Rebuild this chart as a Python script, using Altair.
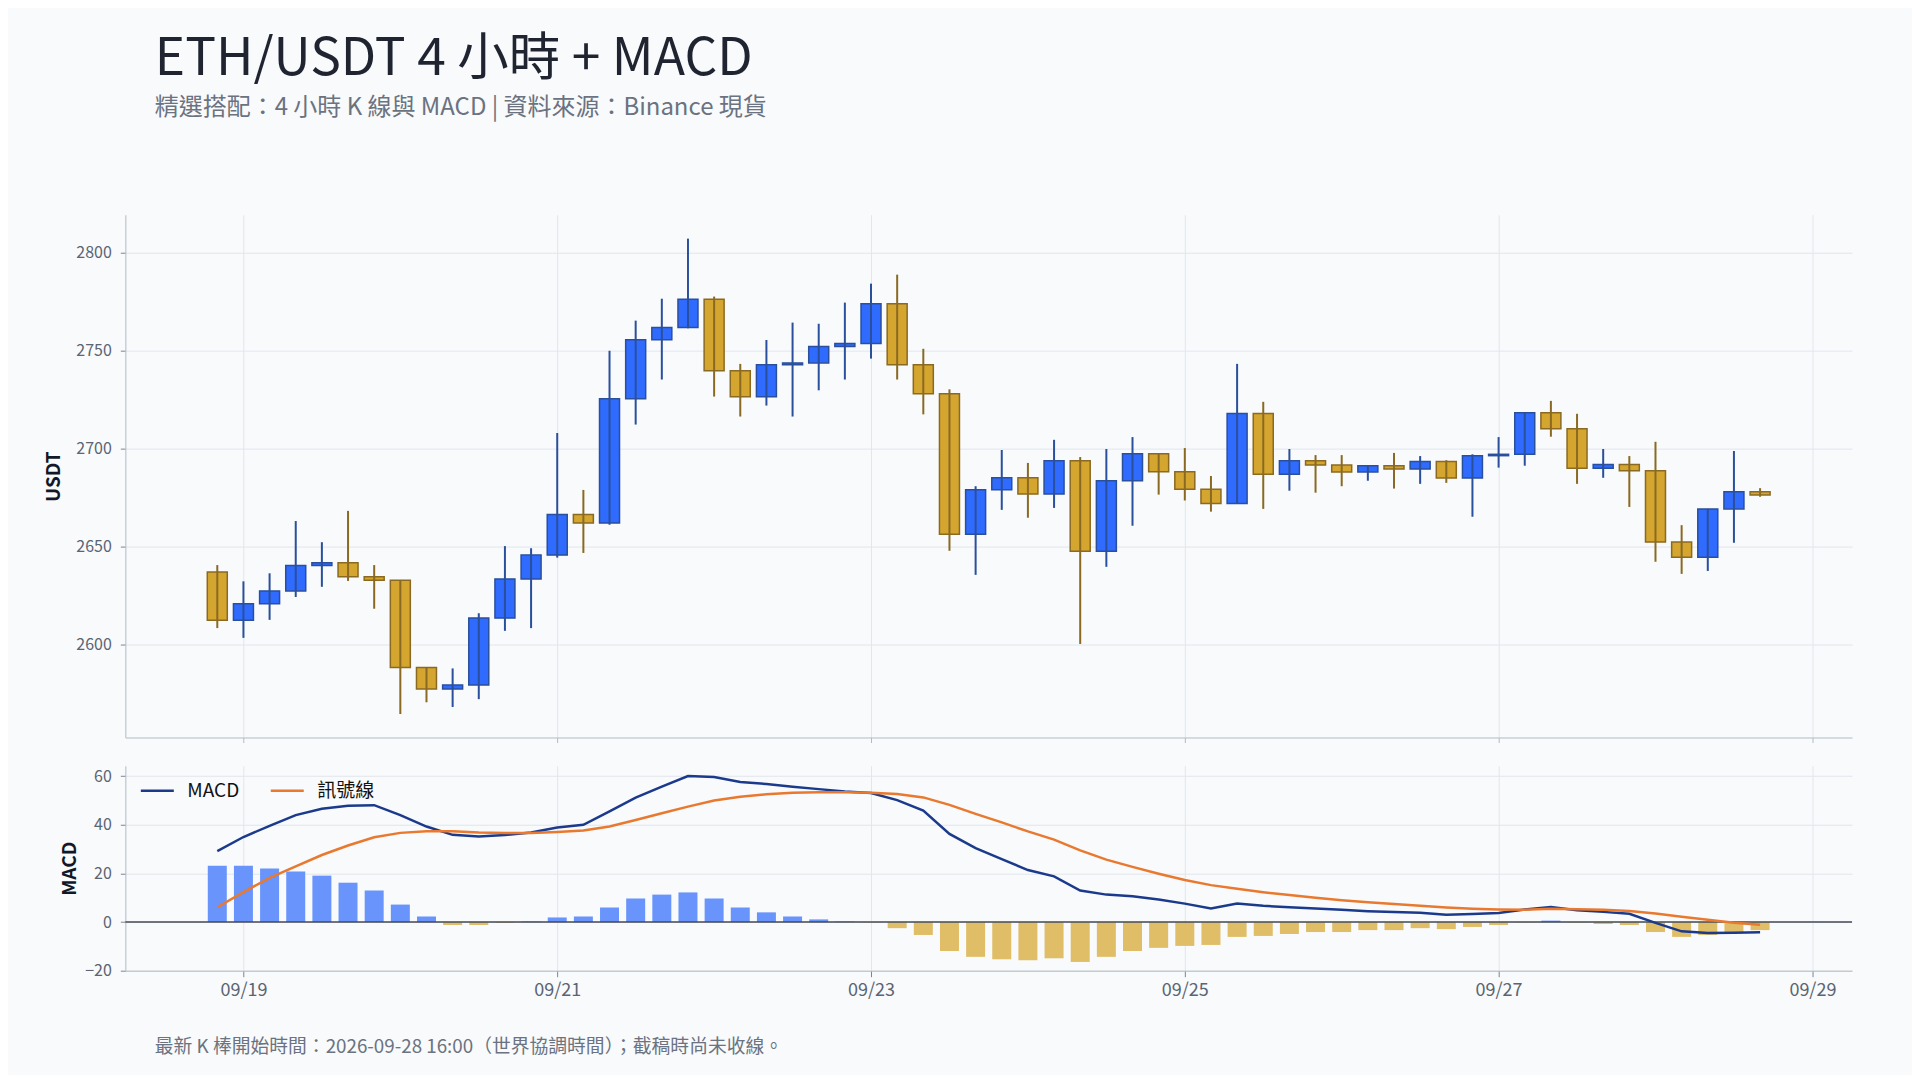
import altair as alt
import pandas as pd

# ---------------- data ----------------
start_time = "2026-09-18T20:00:00Z"
n_candles = 60
times = pd.date_range(start_time, periods=n_candles, freq="4h")

opens = [2637.0, 2612.3, 2620.8, 2627.3, 2640.3, 2641.7, 2634.6, 2632.8, 2588.2, 2577.2,
         2579.2, 2613.4, 2633.4, 2645.6, 2666.3, 2662.0, 2725.5, 2755.6, 2761.9, 2776.3,
         2739.8, 2726.5, 2742.9, 2743.8, 2752.2, 2753.7, 2774.0, 2742.8, 2728.0, 2656.2,
         2679.0, 2685.1, 2676.8, 2693.8, 2647.6, 2683.6, 2697.4, 2688.2, 2679.3, 2672.0,
         2718.0, 2686.9, 2693.8, 2691.6, 2688.1, 2691.3, 2689.6, 2693.4, 2685.0, 2696.4,
         2697.1, 2718.3, 2710.1, 2690.0, 2691.9, 2688.7, 2652.3, 2644.5, 2669.2, 2678.0]
highs = [2640.5, 2632.2, 2636.3, 2663.0, 2652.2, 2668.2, 2640.5, 2632.9, 2588.4, 2587.7,
         2615.9, 2650.2, 2649.1, 2708.0, 2678.9, 2750.0, 2765.4, 2776.6, 2807.3, 2777.7,
         2743.3, 2755.5, 2764.4, 2763.8, 2774.6, 2784.3, 2788.9, 2751.0, 2730.3, 2680.8,
         2699.3, 2692.7, 2704.5, 2695.7, 2699.8, 2705.9, 2697.5, 2700.3, 2686.0, 2743.3,
         2723.9, 2699.8, 2696.7, 2696.7, 2691.5, 2697.8, 2696.2, 2694.1, 2697.1, 2705.9,
         2718.3, 2724.4, 2717.8, 2699.8, 2696.2, 2703.5, 2660.9, 2669.2, 2698.8, 2679.8]
lows = [2608.3, 2603.3, 2612.5, 2624.2, 2629.4, 2632.4, 2618.2, 2564.4, 2570.4, 2568.0,
        2572.0, 2606.9, 2608.3, 2644.3, 2646.7, 2661.1, 2712.3, 2735.3, 2761.5, 2726.6,
        2716.4, 2722.0, 2716.4, 2729.8, 2735.3, 2746.0, 2735.3, 2717.5, 2647.8, 2635.5,
        2668.7, 2664.7, 2669.7, 2600.2, 2639.6, 2660.6, 2676.5, 2673.5, 2667.8, 2671.8,
        2669.2, 2678.5, 2677.5, 2680.8, 2683.6, 2679.6, 2682.0, 2682.5, 2665.2, 2690.3,
        2691.3, 2706.1, 2682.0, 2685.1, 2670.2, 2642.2, 2636.0, 2637.5, 2651.9, 2675.4]
closes = [2612.3, 2620.8, 2627.3, 2640.3, 2641.7, 2634.6, 2632.8, 2588.2, 2577.2, 2579.2,
          2613.4, 2633.4, 2645.6, 2666.3, 2662.0, 2725.5, 2755.6, 2761.9, 2776.3, 2739.8,
          2726.5, 2742.9, 2743.8, 2752.2, 2753.7, 2774.0, 2742.8, 2728.0, 2656.2, 2679.0,
          2685.1, 2676.8, 2693.8, 2647.6, 2683.6, 2697.4, 2688.2, 2679.3, 2672.0, 2718.0,
          2686.9, 2693.8, 2691.6, 2688.1, 2691.3, 2689.6, 2693.4, 2685.0, 2696.4, 2697.1,
          2718.3, 2710.1, 2690.0, 2691.9, 2688.7, 2652.3, 2644.5, 2669.2, 2678.0, 2676.3]

macd_line = [29.2, 35.0, 39.6, 44.0, 46.6, 47.9, 48.1, 44.0, 39.3, 35.9,
             35.2, 35.8, 36.9, 38.9, 40.0, 45.5, 51.2, 55.7, 60.1, 59.7,
             57.6, 56.8, 55.7, 54.7, 53.7, 53.1, 50.2, 45.9, 36.3, 30.4,
             25.9, 21.4, 18.8, 13.0, 11.3, 10.6, 9.3, 7.6, 5.6, 7.6,
             6.7, 6.1, 5.6, 5.1, 4.5, 4.1, 3.8, 3.0, 3.3, 3.7,
             5.2, 6.2, 4.9, 4.2, 3.4, -0.3, -3.8, -4.5, -4.4, -4.2]
signal_line = [6.1, 12.3, 18.2, 22.9, 27.6, 31.5, 34.9, 36.7, 37.4, 37.4,
               36.9, 36.7, 36.7, 37.1, 37.7, 39.3, 42.0, 44.8, 47.5, 50.0,
               51.6, 52.6, 53.2, 53.4, 53.4, 53.2, 52.7, 51.3, 48.2, 44.5,
               41.0, 37.3, 33.9, 29.5, 25.7, 22.7, 19.9, 17.3, 15.2, 13.7,
               12.3, 11.1, 10.0, 9.0, 8.2, 7.4, 6.7, 6.0, 5.5, 5.2,
               5.1, 5.5, 5.3, 5.1, 4.6, 3.5, 2.2, 1.0, -0.3, -1.1]
histogram = [23.2, 23.2, 22.0, 20.8, 19.1, 16.2, 13.0, 7.2, 2.3, -1.2,
             -1.2, -0.3, 0.2, 1.9, 2.3, 6.0, 9.7, 11.3, 12.2, 9.7,
             6.0, 4.0, 2.3, 1.1, 0.2, -0.1, -2.5, -5.3, -11.9, -14.3,
             -15.3, -15.7, -14.9, -16.4, -14.3, -11.9, -10.6, -9.8, -9.4, -6.1,
             -5.7, -4.9, -4.1, -4.1, -3.3, -3.3, -2.5, -2.9, -2.0, -1.2,
             -0.1, 0.6, -0.2, -0.8, -1.2, -4.1, -6.1, -5.3, -4.1, -3.3]

series_names = ["MACD", "訊號線"]
price_ticks = [2600, 2650, 2700, 2750, 2800]
macd_ticks = [-20, 0, 20, 40, 60]
date_ticks = [19, 21, 23, 25, 27, 29]

title_text = "ETH/USDT 4 小時 + MACD"
subtitle_text = "精選搭配：4 小時 K 線與 MACD | 資料來源：Binance 現貨"
footer_text = "最新 K 棒開始時間：2026-09-28 16:00（世界協調時間）；截稿時尚未收線。"

# ---------------- style ----------------
FONT = "Noto Sans CJK TC"
BG = "#f8fafc"
GRID = "#e2e6ed"
AXIS = "#b4bbc7"
LABEL = "#5b6472"
UP_FILL, UP_STROKE = "#2f6bff", "#2a4f9c"
DN_FILL, DN_STROKE = "#d4a52f", "#8a6a22"
HIST_UP, HIST_DN = "#6894fb", "#e0bd67"
MACD_C, SIG_C = "#1b3a8c", "#e8792f"

W = 1727.5
H1 = 523
H2 = 205
GAP = 28.3

candles = pd.DataFrame({"t": times.strftime("%Y-%m-%dT%H:%M:%SZ"), "open": opens, "high": highs,
                        "low": lows, "close": closes})
lines = pd.DataFrame({
    "t": list(times.strftime("%Y-%m-%dT%H:%M:%SZ")) * 2,
    "series": [series_names[0]] * n_candles + [series_names[1]] * n_candles,
    "value": macd_line + signal_line,
})
hist_df = pd.DataFrame({"t": times.strftime("%Y-%m-%dT%H:%M:%SZ"), "hist": histogram})

xdomain = [alt.DateTime(year=2026, month=9, date=18, hours=6, minutes=42, utc=True),
           alt.DateTime(year=2026, month=9, date=29, hours=5, minutes=18, utc=True)]
xvalues = [alt.DateTime(year=2026, month=9, date=d, utc=True) for d in date_ticks]
xscale = alt.Scale(type="utc", domain=xdomain, nice=False)

up = "datum.close >= datum.open"


def y_axis(values, title_x):
    return alt.Axis(values=values, format="d", grid=True, gridColor=GRID, domainColor=AXIS,
                    tickColor="#7c8594", tickSize=5, labelPadding=9, labelFontSize=16,
                    labelColor=LABEL, titleFontSize=19, titleFontWeight="bold",
                    titleColor="#111827", titleX=title_x, titleBaseline="middle",
                    titleAlign="center")


price_scale = alt.Scale(domain=[2552.4, 2819.5], nice=False, zero=False)

x_top = alt.X("t:T", scale=xscale, title=None,
              axis=alt.Axis(values=xvalues, labels=False, ticks=True, tickSize=5,
                            grid=True, gridColor=GRID, domainColor=AXIS, tickColor=AXIS))

base = alt.Chart(candles)
body = base.mark_bar(size=20, strokeWidth=1.5).encode(
    x=x_top,
    y=alt.Y("open:Q", scale=price_scale, title="USDT", axis=y_axis(price_ticks, -71.6)),
    y2="close:Q",
    fill=alt.condition(up, alt.value(UP_FILL), alt.value(DN_FILL)),
    stroke=alt.condition(up, alt.value(UP_STROKE), alt.value(DN_STROKE)),
)
wick = base.mark_rule(strokeWidth=2).encode(
    x=x_top, y=alt.Y("low:Q", scale=price_scale), y2="high:Q",
    color=alt.condition(up, alt.value(UP_STROKE), alt.value(DN_STROKE)),
)
title_mark = alt.Chart(pd.DataFrame({"txt": [title_text]})).mark_text(
    align="left", baseline="alphabetic", fontSize=51.5, color="#1f2430", font=FONT
).encode(x=alt.value(29.5), y=alt.value(-140.0), text="txt:N")
subtitle_mark = alt.Chart(pd.DataFrame({"txt": [subtitle_text]})).mark_text(
    align="left", baseline="alphabetic", fontSize=24, color="#6b7280", font=FONT
).encode(x=alt.value(29.5), y=alt.value(-99.5), text="txt:N")

price = alt.layer(body, wick, title_mark, subtitle_mark).properties(width=W, height=H1)

x_bot = alt.X("t:T", scale=xscale, title=None,
              axis=alt.Axis(values=xvalues, format="%m/%d", labelFontSize=18,
                            labelColor=LABEL, tickSize=6, labelPadding=5, grid=True,
                            gridColor=GRID, domainColor=AXIS, tickColor="#7c8594"))
y_macd_scale = alt.Scale(domain=[-20, 64.3], nice=False, zero=False)

hist = alt.Chart(hist_df).mark_bar(size=19).encode(
    x=x_bot,
    y=alt.Y("hist:Q", scale=y_macd_scale, axis=y_axis(macd_ticks, -55.7), title="MACD"),
    y2=alt.datum(0),
    color=alt.condition("datum.hist >= 0", alt.value(HIST_UP), alt.value(HIST_DN)),
)
zero = alt.Chart(pd.DataFrame({"z": [0]})).mark_rule(color="#454a54", strokeWidth=1.5).encode(
    y=alt.Y("z:Q", scale=y_macd_scale), x=alt.value(0), x2=alt.value(W))
line = alt.Chart(lines).mark_line(strokeWidth=2.5).encode(
    x=x_bot,
    y=alt.Y("value:Q", scale=y_macd_scale),
    color=alt.Color("series:N", scale=alt.Scale(domain=series_names, range=[MACD_C, SIG_C]),
                    legend=alt.Legend(title=None, orient="none", legendX=14.0,
                                      legendY=H1 + GAP + 7.0,
                                      direction="horizontal", symbolType="stroke",
                                      symbolSize=1089, symbolStrokeWidth=2.5,
                                      labelFontSize=19, labelColor="#111111", labelFont=FONT,
                                      labelOffset=12, columnPadding=26, padding=0)),
)
footer = alt.Chart(pd.DataFrame({"txt": [footer_text]})).mark_text(
    align="left", baseline="middle", fontSize=18.8, color="#6b7280", font=FONT
).encode(x=alt.value(29.5), y=alt.value(281.5), text="txt:N")

macd = alt.layer(hist, zero, line, footer).properties(width=W, height=H2)

chart = alt.vconcat(price, macd, spacing=GAP, bounds="flush").properties(
    background=BG,
    padding={"left": 36.4, "top": 25.6, "right": 59, "bottom": 17},
).configure(font=FONT).configure_view(strokeWidth=0).configure_axis(
    labelFont=FONT, titleFont=FONT
)

chart.save("out.html", embed_options={"renderer": "svg", "actions": False})
